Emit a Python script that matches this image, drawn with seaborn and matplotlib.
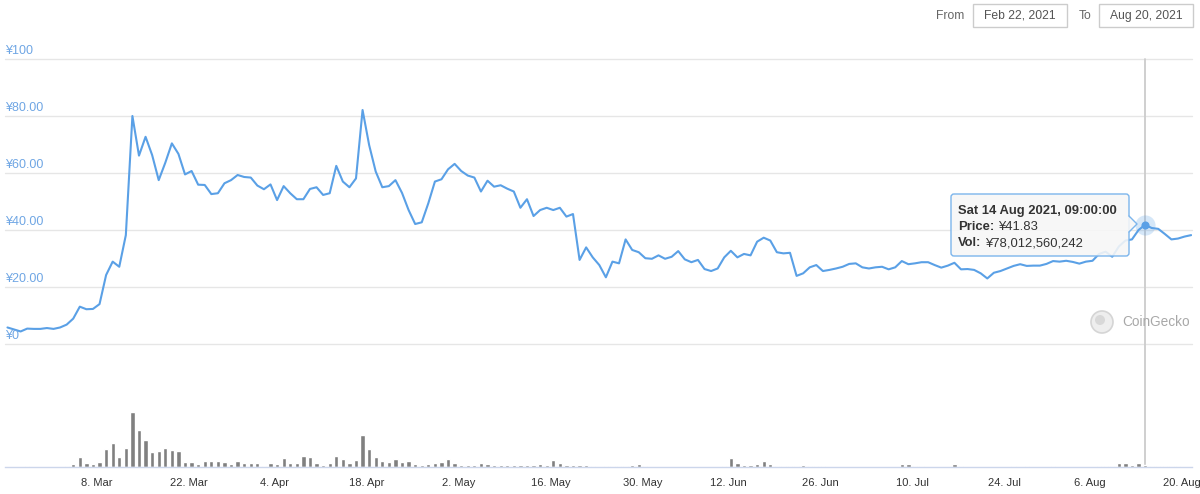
import pandas as pd
import matplotlib
matplotlib.use('Agg')
import matplotlib.pyplot as plt
from matplotlib.patches import FancyBboxPatch, Polygon, Circle, Rectangle
from matplotlib.lines import Line2D
from matplotlib.transforms import Affine2D, ScaledTranslation
import seaborn as sns

# Daily price (JPY), Feb 22 2021 onwards
price = [
    5.8, 5.1, 4.4, 5.4, 5.3, 5.3, 5.6, 5.3, 5.8, 6.8,
    8.9, 13.1, 12.2, 12.3, 14.0, 24.2, 28.9, 27.1, 38.2, 80.0,
    66.1, 72.7, 66.3, 57.5, 63.6, 70.4, 66.7, 59.5, 60.7, 55.9,
    55.8, 52.6, 52.9, 56.4, 57.5, 59.3, 58.6, 58.4, 55.6, 54.3,
    56.0, 50.5, 55.4, 52.9, 50.8, 50.8, 54.4, 55.0, 52.3, 52.9,
    62.5, 57.0, 55.0, 58.1, 82.1, 69.8, 60.5, 55.0, 55.4, 57.5,
    53.0, 47.0, 42.1, 42.7, 49.4, 57.0, 57.8, 61.3, 63.2, 60.7,
    59.1, 58.4, 53.5, 57.3, 55.2, 55.7, 54.5, 53.5, 47.8, 50.8,
    44.9, 47.0, 47.8, 47.0, 47.8, 44.7, 45.6, 29.5, 33.9, 30.4,
    27.7, 23.4, 28.9, 28.3, 36.7, 33.0, 32.2, 30.1, 29.9, 31.1,
    29.9, 30.6, 32.6, 29.7, 28.7, 29.5, 26.3, 25.6, 26.5, 30.4,
    32.7, 30.4, 31.6, 31.1, 35.9, 37.3, 36.3, 32.2, 31.8, 32.0,
    23.9, 24.8, 26.9, 27.7, 25.6, 26.0, 26.5, 27.1, 28.1, 28.3,
    26.9, 26.5, 26.9, 27.1, 26.2, 26.9, 29.1, 28.0, 28.3, 28.7,
    28.7, 27.7, 26.8, 27.5, 28.5, 26.2, 26.3, 26.0, 24.8, 23.0,
    25.0, 25.6, 26.5, 27.4, 28.0, 27.4, 27.5, 27.5, 28.1, 29.1,
    28.9, 29.2, 28.8, 28.2, 28.9, 29.2, 31.6, 32.4, 30.6, 34.2,
    36.3, 36.7, 40.0, 41.83, 40.7, 40.4, 38.6, 36.7, 37.0, 37.7,
    38.2,
]

# Daily traded volume (JPY billions)
volume_bn = [
    0, 0, 0, 44, 0, 0, 0, 0, 0, 44,
    102, 340, 136, 102, 180, 612, 816, 340, 646, 1870,
    1248, 908, 510, 544, 646, 588, 554, 180, 180, 112,
    214, 214, 214, 180, 112, 214, 126, 146, 146, 44,
    146, 112, 306, 146, 146, 374, 340, 146, 78, 146,
    384, 282, 146, 248, 1098, 612, 340, 204, 180, 282,
    160, 194, 112, 58, 112, 136, 170, 272, 136, 58,
    58, 58, 136, 102, 78, 58, 58, 58, 58, 58,
    58, 102, 58, 248, 136, 78, 58, 58, 58, 44,
    0, 44, 44, 44, 44, 78, 112, 44, 0, 0,
    0, 0, 0, 0, 0, 0, 0, 0, 0, 44,
    306, 136, 58, 58, 112, 194, 112, 44, 44, 44,
    44, 78, 44, 44, 44, 0, 0, 0, 0, 0,
    0, 0, 0, 0, 0, 0, 102, 102, 44, 44,
    0, 0, 0, 0, 92, 44, 0, 0, 0, 0,
    0, 0, 0, 44, 0, 44, 0, 0, 0, 44,
    0, 0, 0, 0, 0, 0, 44, 44, 44, 126,
    126, 68, 126, 78, 44, 44, 44, 44, 44, 0,
    0,
]

dates = pd.date_range('2021-02-22 09:00', periods=len(price), freq='D')

tick_dates = ['2021-03-08', '2021-03-22', '2021-04-04', '2021-04-18', '2021-05-02',
              '2021-05-16', '2021-05-30', '2021-06-12', '2021-06-26', '2021-07-10',
              '2021-07-24', '2021-08-06', '2021-08-20']
tick_labels = ['8. Mar', '22. Mar', '4. Apr', '18. Apr', '2. May', '16. May', '30. May',
               '12. Jun', '26. Jun', '10. Jul', '24. Jul', '6. Aug', '20. Aug']
y_ticks = [0, 20, 40, 60, 80, 100]
y_labels = ['¥0', '¥20.00', '¥40.00', '¥60.00', '¥80.00', '¥100']

hover_date = pd.Timestamp('2021-08-14 09:00')
hover_price = 41.83
tooltip_title = 'Sat 14 Aug 2021, 09:00:00'
tooltip_price = '¥41.83'
tooltip_vol = '¥78,012,560,242'

sns.set_style('white')
plt.rcParams['font.family'] = ['Liberation Sans', 'DejaVu Sans']

LINE = '#5aa0e6'
W, H = 1200, 494
fig = plt.figure(figsize=(12, 4.94), dpi=100)
# pixel coordinates with top-left origin for overlay pieces
pix = Affine2D().scale(1 / W, -1 / H).translate(0, 1) + fig.transFigure

left, right = 5, 1192
ax = fig.add_axes([left / W, 1 - 344 / H, (right - left) / W, (344 - 59) / H])
axv = fig.add_axes([left / W, 1 - 467 / H, (right - left) / W, (467 - 380) / H])
axv.patch.set_visible(False)

x_start = pd.Timestamp('2021-02-22')
x_end = x_start + pd.Timedelta(days=(right - left) / 6.576)

# price panel
for v in y_ticks:
    ax.axhline(v, color='#e6e6e6', lw=1, zorder=0, clip_on=False)
sns.lineplot(x=dates, y=price, ax=ax, color=LINE, linewidth=1.5, zorder=3)
ax.set_xlim(x_start, x_end)
ax.set_ylim(0, 100)
ax.set_xticks([])
ax.set_yticks([])
ax.set_xlabel('')
ax.set_ylabel('')
for s in ax.spines.values():
    s.set_visible(False)
lab_tf = ax.get_yaxis_transform() + ScaledTranslation(0, 2 / 100, fig.dpi_scale_trans)
for v, lab in zip(y_ticks, y_labels):
    ax.text(0.0, v, lab, transform=lab_tf, ha='left', va='bottom',
            color='#6fa6e4', fontsize=9)

# volume panel
axv.bar(dates, volume_bn, width=0.65, color='#808080', zorder=2)
axv.set_xlim(x_start, x_end)
axv.set_ylim(0, max(volume_bn) * 87 / 55)
axv.set_yticks([])
axv.set_xticks(pd.to_datetime(tick_dates))
axv.set_xticklabels(tick_labels)
axv.tick_params(axis='x', direction='out', length=7, width=1, color='#ccd6eb',
                labelcolor='#333333', labelsize=8, pad=1)
for k, s in axv.spines.items():
    s.set_visible(k == 'bottom')
axv.spines['bottom'].set_color('#ccd6eb')
axv.spines['bottom'].set_linewidth(1)

# crosshair and hovered point
ax.axvline(hover_date, ymin=-(467 - 344) / (344 - 59), ymax=1, color='#cccccc',
           lw=1.3, clip_on=False, zorder=1)
ax.scatter([hover_date], [hover_price], s=210, color=LINE, alpha=0.25, lw=0, zorder=4)
ax.scatter([hover_date], [hover_price], s=34, color=LINE, lw=0, zorder=5)

# tooltip
bg = (0.97, 0.97, 0.97, 0.88)
box = FancyBboxPatch((951, 194), 178, 62, boxstyle='round,pad=0,rounding_size=3',
                     transform=pix, fc=bg, ec='#7cb5ec', lw=1, zorder=10)
fig.patches.append(box)
fig.patches.append(Polygon([(1128, 216), (1137, 224), (1128, 232)], closed=True,
                           transform=pix, fc=bg, ec='none', zorder=11))
fig.lines.append(Line2D([1129, 1137, 1129], [216, 224, 232], transform=pix,
                        color='#7cb5ec', lw=1, zorder=12))
fig.text(958, 214, tooltip_title, transform=pix, fontsize=9.4, fontweight='bold',
         color='#333333', va='baseline', zorder=13)
for yb, name, val in [(230, 'Price:', tooltip_price), (246, 'Vol:', tooltip_vol)]:
    t = fig.text(958, yb, name, transform=pix, fontsize=9.4, fontweight='bold',
                 color='#333333', va='baseline', zorder=13)
    fig.add_artist(plt.Annotation(val, xy=(1, 0), xycoords=t, xytext=(2.5, 0),
                                  textcoords='offset points', va='bottom', ha='left',
                                  fontsize=9.4, color='#333333', zorder=13))

# date range inputs
fig.text(950, 16, 'From', transform=pix, ha='center', va='center', fontsize=8.7, color='#666666')
fig.patches.append(Rectangle((973, 4), 94, 23, transform=pix, fc='white', ec='#cccccc', lw=1))
fig.text(1020, 16, 'Feb 22, 2021', transform=pix, ha='center', va='center', fontsize=8.7, color='#555555')
fig.text(1085, 16, 'To', transform=pix, ha='center', va='center', fontsize=8.7, color='#666666')
fig.patches.append(Rectangle((1099, 4), 94, 23, transform=pix, fc='white', ec='#cccccc', lw=1))
fig.text(1146, 16, 'Aug 20, 2021', transform=pix, ha='center', va='center', fontsize=8.7, color='#555555')

# watermark
fig.patches.append(Circle((1102, 322), 11, transform=pix, fc='#eeeeee', ec='#d5d5d5', lw=1.2, zorder=2))
fig.patches.append(Circle((1100, 320), 5, transform=pix, fc='#d8d8d8', ec='none', zorder=3))
fig.text(1122, 322, 'CoinGecko', transform=pix, ha='left', va='center', fontsize=9.8, color='#a8a8a8')

fig.savefig('out.png', dpi=100)
